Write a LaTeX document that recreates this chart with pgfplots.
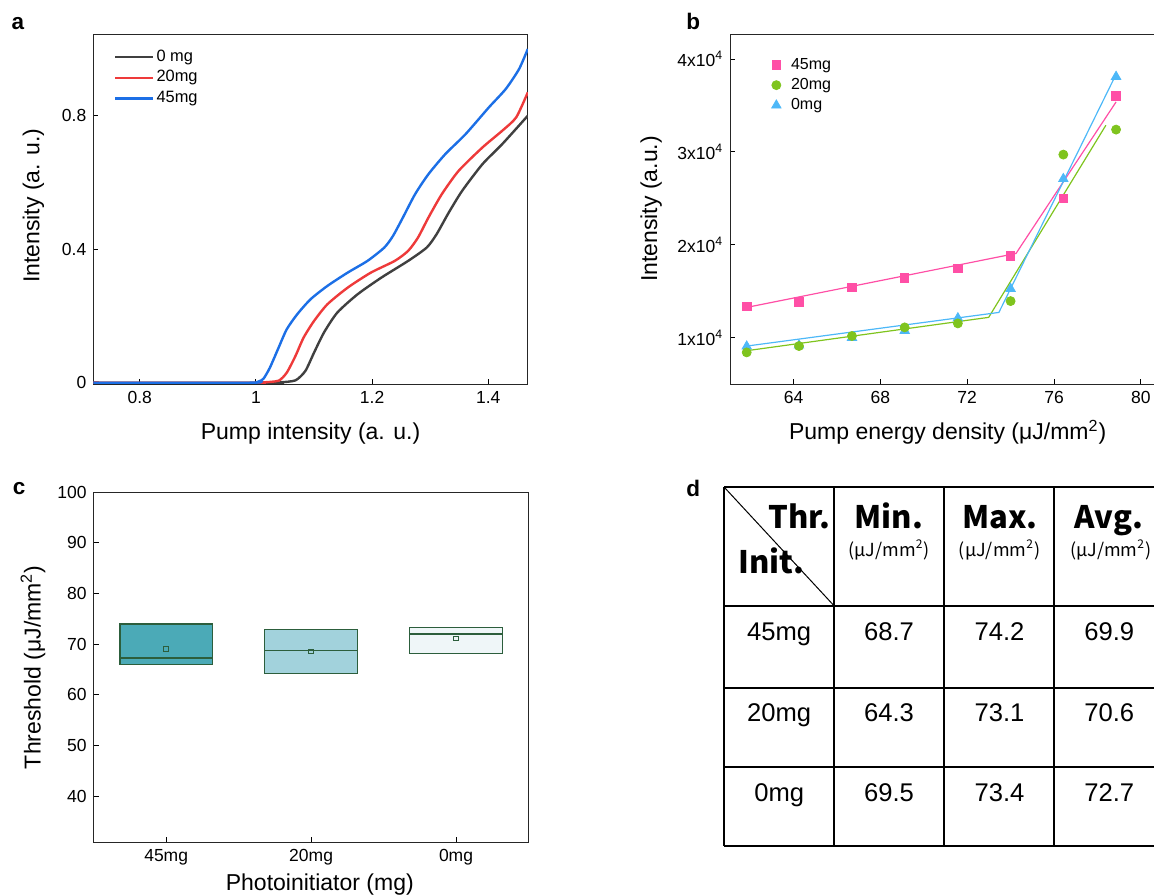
\documentclass[border=0pt]{standalone}
\usepackage{fontspec}
\setmainfont{Liberation Sans}
\newfontfamily\cjk{Noto Sans CJK SC}
\usepackage{pgfplots}
\pgfplotsset{compat=1.18}

\definecolor{c0}{HTML}{404040}
\definecolor{c20}{HTML}{EE3A3A}
\definecolor{c45}{HTML}{1C6FE6}
\definecolor{pk}{HTML}{FF4FA6}
\definecolor{gr}{HTML}{7FC41E}
\definecolor{lb}{HTML}{4DB8F8}
\definecolor{edge}{HTML}{2C5E3C}
\definecolor{f45}{HTML}{4BAAB7}
\definecolor{f20}{HTML}{A2D2DC}
\definecolor{f0}{HTML}{EFF6F8}

\pgfplotsset{
  common/.style={
    scale only axis, anchor=south west,
    /pgf/number format/assume math mode=true,
    tick align=inside, major tick length=2.5pt,
    tick pos=left,
    axis line style={line width=0.6pt, black!85},
    every tick/.style={line width=0.5pt, black},
    tick label style={font=\fontsize{8.75}{10}\selectfont},
    label style={font=\fontsize{11.5}{13}\selectfont},
  },
}

\pgfplotstableread{
x y
0.72 0
0.99 0
1.005 0.004
1.013 0.012
1.024 0.045
1.039 0.105
1.053 0.16
1.071 0.205
1.094 0.25
1.123 0.29
1.158 0.33
1.192 0.365
1.221 0.405
1.236 0.44
1.253 0.495
1.274 0.565
1.297 0.625
1.326 0.685
1.361 0.745
1.401 0.825
1.430 0.88
1.453 0.94
1.468 1.0
}\blue

\pgfplotstableread{
x y
0.72 0
1.0 0
1.013 0.001
1.039 0.006
1.053 0.03
1.068 0.08
1.082 0.135
1.100 0.185
1.123 0.235
1.158 0.285
1.198 0.33
1.239 0.365
1.262 0.395
1.279 0.435
1.297 0.495
1.320 0.565
1.349 0.635
1.390 0.705
1.424 0.755
1.448 0.795
1.468 0.87
}\red

\pgfplotstableread{
x y
0.72 0
1.03 0
1.042 0.001
1.068 0.007
1.085 0.035
1.100 0.09
1.117 0.15
1.140 0.21
1.175 0.265
1.216 0.315
1.262 0.365
1.294 0.405
1.311 0.445
1.332 0.51
1.355 0.575
1.390 0.655
1.424 0.715
1.468 0.80
}\black

\begin{document}
\begin{tikzpicture}
\useasboundingbox (0,0) rectangle (577pt,447.5pt);
\clip (0,0) rectangle (577pt,447.5pt);

% ---------------- panel a
\begin{axis}[common, at={(46.65pt,255.35pt)}, width=217.25pt, height=175pt,
  xmin=0.72, xmax=1.468, ymin=-0.0048, ymax=1.044,
  xtick={0.8,1,1.2,1.4}, ytick={0,0.4,0.8},
  xlabel={Pump intensity (a. u.)}, ylabel={Intensity (a. u.)},
  xlabel style={at={(axis description cs:0.5,-0.159)}, anchor=base},
  ylabel style={at={(axis description cs:-0.124,0.51)}, anchor=base},
  legend style={draw=none, fill=none, at={(axis description cs:0.047,0.963)},
    anchor=north west, font=\fontsize{8.2}{9.5}\selectfont, inner sep=0pt,
    row sep=1.2pt, nodes={inner sep=1pt}},
  legend cell align=left,
  legend image code/.code={\draw[#1] (0pt,0pt) -- (19pt,0pt);},
]
\addplot[c0, line width=1.2pt, smooth, tension=0.4] table {\black}; \addlegendentry{0 mg}
\addplot[c20, line width=1.2pt, smooth, tension=0.4] table {\red}; \addlegendentry{20mg}
\addplot[c45, line width=1.2pt, smooth, tension=0.4] table {\blue}; \addlegendentry{45mg}
\end{axis}

% ---------------- panel b
\begin{axis}[common, at={(365.1pt,255.35pt)}, width=216.15pt, height=175pt,
  xmin=61.08, xmax=81, ymin=4984, ymax=42659,
  xtick={64,68,72,76,80},
  ytick={10000,20000,30000,40000},
  yticklabels={1x10\textsuperscript{4},2x10\textsuperscript{4},3x10\textsuperscript{4},4x10\textsuperscript{4}},
  scaled y ticks=false,
  xlabel={Pump energy density (μJ/mm\textsuperscript{2})}, ylabel={Intensity (a.u.)},
  xlabel style={at={(axis description cs:0.503,-0.159)}, anchor=base},
  ylabel style={at={(axis description cs:-0.169,0.501)}, anchor=base},
  legend style={draw=none, fill=none, at={(axis description cs:0.095,0.939)},
    anchor=north west, font=\fontsize{8}{9.5}\selectfont, inner sep=0pt,
    row sep=1pt, column sep=4pt, nodes={inner sep=1pt}},
  legend cell align=left, reverse legend,
  legend image code/.code={\draw[#1] plot coordinates {(0pt,0pt)};},
]
% fit lines
\addplot[pk, line width=0.6pt, forget plot] coordinates {(61.84,13260) (74.25,19070) (78.86,35380)};
\addplot[gr, line width=0.6pt, forget plot] coordinates {(61.84,8600) (72.99,12190) (78.39,32870)};
\addplot[lb, line width=0.6pt, forget plot] coordinates {(61.84,9100) (73.46,12720) (78.86,38350)};
% data
\addplot[only marks, lb, mark=triangle*, mark size=2.7pt] coordinates {
(61.84,9070) (64.25,9180) (66.69,10000) (69.12,10750) (71.57,12110) (74.0,15270) (76.43,27100) (78.86,38100)};
\addlegendentry{0mg}
\addplot[only marks, gr, mark=*, mark size=2.25pt] coordinates {
(61.84,8420) (64.25,9100) (66.69,10180) (69.12,11110) (71.57,11540) (74.0,13940) (76.43,29710) (78.86,32400)};
\addlegendentry{20mg}
\addplot[only marks, pk, mark=square*, mark size=2.1pt] coordinates {
(61.84,13400) (64.25,13870) (66.69,15410) (69.12,16450) (71.57,17490) (74.0,18820) (76.43,25020) (78.86,36020)};
\addlegendentry{45mg}
\end{axis}

% ---------------- panel c
\begin{axis}[common, at={(46.85pt,26.35pt)}, width=217.4pt, height=175pt,
  xmin=-0.5, xmax=2.5, ymin=30.9, ymax=100,
  xtick={0,1,2}, xticklabels={45mg,20mg,0mg},
  ytick={40,50,60,70,80,90,100},
  xlabel={Photoinitiator (mg)}, ylabel={Threshold (μJ/mm\textsuperscript{2})},
  xlabel style={at={(axis description cs:0.52,-0.138)}, anchor=base},
  ylabel style={at={(axis description cs:-0.122,0.5)}, anchor=base},
]
\addplot[draw=edge, fill=f45, line width=0.75pt] coordinates {(-0.32,66.0) (0.32,66.0) (0.32,74.0) (-0.32,74.0)} -- cycle;
\addplot[edge, line width=0.75pt] coordinates {(-0.32,67.3) (0.32,67.3)};
\addplot[edge, only marks, mark=square, mark size=1.1pt, mark options={line width=0.5pt}] coordinates {(0,69.1)};

\addplot[draw=edge, fill=f20, line width=0.75pt] coordinates {(0.68,64.2) (1.32,64.2) (1.32,72.9) (0.68,72.9)} -- cycle;
\addplot[edge, line width=0.75pt] coordinates {(0.68,68.8) (1.32,68.8)};
\addplot[edge, only marks, mark=square, mark size=1.1pt, mark options={line width=0.5pt}] coordinates {(1,68.6)};

\addplot[draw=edge, fill=f0, line width=0.75pt] coordinates {(1.68,68.2) (2.32,68.2) (2.32,73.3) (1.68,73.3)} -- cycle;
\addplot[edge, line width=0.75pt] coordinates {(1.68,72.0) (2.32,72.0)};
\addplot[edge, only marks, mark=square, mark size=1.1pt, mark options={line width=0.5pt}] coordinates {(2,71.1)};
\end{axis}

% ---------------- panel d (table)
\begin{scope}[line width=1pt]
\foreach \yy in {203.85,144.65,103.3,64.15,24.65}
  \draw (362.15pt,\yy pt) -- (590pt,\yy pt);
\foreach \xx in {362.15,417,472.15,527.15}
  \draw (\xx pt,203.85pt) -- (\xx pt,24.65pt);
\end{scope}
\draw[line width=0.5pt] (362.15pt,203.85pt) -- (417pt,144.65pt);

\node[anchor=base east, inner sep=0pt] at (415.6pt,183.35pt) {\cjk\bfseries\fontsize{15.5}{16}\selectfont Thr.};
\node[anchor=base west, inner sep=0pt] at (369.15pt,160.8pt) {\cjk\bfseries\fontsize{15.5}{16}\selectfont Init.};
\node[anchor=base, inner sep=0pt] at (444.5pt,183.35pt) {\cjk\bfseries\fontsize{15.5}{16}\selectfont Min.};
\node[anchor=base, inner sep=0pt] at (499.75pt,183.35pt) {\cjk\bfseries\fontsize{15.5}{16}\selectfont Max.};
\node[anchor=base, inner sep=0pt] at (554.6pt,183.35pt) {\cjk\bfseries\fontsize{15.5}{16}\selectfont Avg.};
\foreach \xx in {444.5,499.75,555.3}
  \node[anchor=center, inner sep=0pt] at (\xx pt,172.65pt) {\cjk\fontsize{9}{10}\selectfont (μJ/mm\textsuperscript{2})};

\begin{scope}[every node/.style={anchor=base, inner sep=0pt, font=\fontsize{12.8}{14}\selectfont}]
\node at (389.6pt,127.5pt) {45mg};
\node at (444.5pt,127.5pt) {68.7};
\node at (499.75pt,127.5pt) {74.2};
\node at (554.6pt,127.5pt) {69.9};
\node at (389.6pt,86.65pt) {20mg};
\node at (444.5pt,86.65pt) {64.3};
\node at (499.75pt,86.65pt) {73.1};
\node at (554.6pt,86.65pt) {70.6};
\node at (389.6pt,46.65pt) {0mg};
\node at (444.5pt,46.65pt) {69.5};
\node at (499.75pt,46.65pt) {73.4};
\node at (554.6pt,46.65pt) {72.7};
\end{scope}

% panel letters
\begin{scope}[every node/.style={anchor=base west, inner sep=0pt, font=\bfseries\fontsize{11.25}{12}\selectfont}]
\node at (5.6pt,432.5pt) {a};
\node at (343pt,432.5pt) {b};
\node at (6.25pt,200.5pt) {c};
\node at (343pt,199.15pt) {d};
\end{scope}
\end{tikzpicture}
\end{document}
